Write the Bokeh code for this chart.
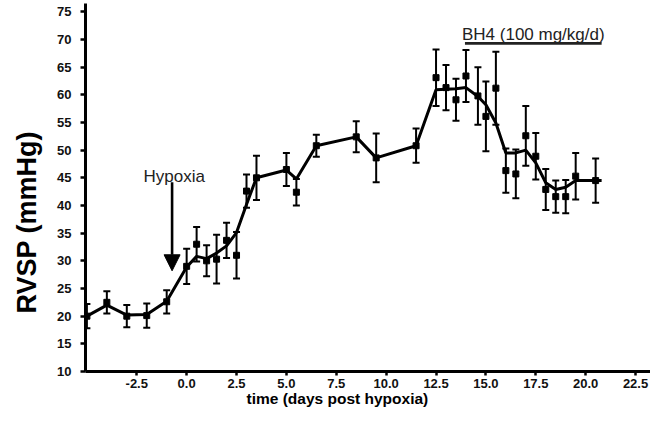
from bokeh.plotting import figure
from bokeh.models import (ColumnDataSource, Whisker, TeeHead, FixedTicker,
                          PrintfTickFormatter, Label, Arrow, NormalHead, Range1d, Title)
from bokeh.embed import file_html
from bokeh.resources import INLINE

# ---- data ----
days = [-5, -4, -3, -2, -1, 0, 0.5, 1, 1.5, 2, 2.5, 3, 3.5, 5, 5.5, 6.5, 8.5, 9.5,
        11.5, 12.5, 13, 13.5, 14, 14.6, 15, 15.5, 16, 16.5, 17, 17.5, 18, 18.5, 19,
        19.5, 20.5]
rvsp = [20.0, 22.5, 20.0, 20.1, 22.6, 29.0, 33.0, 30.0, 30.3, 33.7, 31.0, 42.6, 45.0,
        46.5, 42.4, 50.8, 52.4, 48.6, 50.8, 63.1, 61.3, 59.1, 63.4, 59.8, 56.1, 61.2,
        46.3, 45.7, 52.6, 48.9, 42.9, 41.6, 41.6, 45.3, 44.5]
sem = [2.2, 2.0, 2.0, 2.2, 2.1, 3.2, 3.1, 2.8, 4.4, 3.2, 4.2, 3.0, 4.0,
       3.0, 2.4, 2.0, 2.8, 4.4, 3.1, 5.1, 4.1, 3.8, 4.7, 5.2, 6.3, 6.6,
       4.0, 4.4, 5.4, 4.2, 3.7, 2.9, 3.0, 4.2, 4.0]

trend_days = [-5, -4, -3, -2, -1, 0, 0.5, 1, 1.5, 2, 2.5, 3, 3.5, 5, 5.5, 6.5, 8.5,
              9.5, 11.5, 12.5, 13, 13.5, 14, 14.6, 15, 15.5, 16, 16.5, 17, 17.5, 18,
              18.5, 19, 19.5, 20.5, 20.8]
trend_rvsp = [20.0, 22.0, 20.2, 20.3, 22.7, 28.9, 30.8, 30.4, 31.4, 32.7, 35.1, 40.2,
              45.0, 46.4, 44.8, 50.8, 52.4, 48.6, 50.8, 60.9, 61.0, 61.1, 61.3, 59.7,
              58.2, 54.9, 49.5, 49.5, 50.0, 47.7, 44.1, 42.9, 43.3, 44.5, 44.5, 44.5]

x_ticks = [-2.5, 0.0, 2.5, 5.0, 7.5, 10.0, 12.5, 15.0, 17.5, 20.0, 22.5]
y_ticks = [10, 15, 20, 25, 30, 35, 40, 45, 50, 55, 60, 65, 70, 75]

bh4_start, bh4_end, bh4_level = 13.95, 20.8, 69.3
hypoxia_day = -0.73
arrow_top, arrow_tip = 44.2, 28.2

FONT = "Liberation Sans"

src = ColumnDataSource(dict(
    x=days, y=rvsp,
    upper=[m + e for m, e in zip(rvsp, sem)],
    lower=[m - e for m, e in zip(rvsp, sem)],
))

p = figure(width=650, height=408, output_backend="svg", toolbar_location=None,
           x_range=Range1d(-5.07, 23.25), y_range=Range1d(10, 76.5),
           min_border_left=85, min_border_right=0, min_border_top=3,
           min_border_bottom=37)
p.outline_line_color = None
p.grid.visible = False
p.background_fill_color = "white"
p.border_fill_color = "white"

w = Whisker(source=src, base="x", upper="upper", lower="lower", dimension="height",
            line_color="black", line_width=2,
            upper_head=TeeHead(size=7, line_width=2, line_color="black"),
            lower_head=TeeHead(size=7, line_width=2, line_color="black"))
p.add_layout(w)

p.line(trend_days, trend_rvsp, line_color="black", line_width=3)
p.scatter("x", "y", source=src, marker="square", size=6, fill_color="black",
          line_color="black")

# BH4 bar
p.line([bh4_start, bh4_end], [bh4_level, bh4_level], line_color="#222222",
       line_width=2.6)
p.add_layout(Label(x=13.8, y=70.9, text="BH4 (100 mg/kg/d)", text_font=FONT,
                   text_font_size="17px", text_color="#222222",
                   text_baseline="alphabetic"))

# Hypoxia arrow
p.add_layout(Label(x=-0.62, y=45.3, text="Hypoxia", text_font=FONT,
                   text_font_size="17px", text_color="#222222",
                   text_align="center", text_baseline="alphabetic"))
p.add_layout(Arrow(end=NormalHead(size=16, fill_color="black", line_color="black"),
                   x_start=hypoxia_day, y_start=arrow_top,
                   x_end=hypoxia_day, y_end=arrow_tip,
                   line_color="black", line_width=2.6))

# axes
for ax in (p.xaxis[0], p.yaxis[0]):
    ax.axis_line_width = 3
    ax.axis_line_color = "black"
    ax.major_tick_line_width = 2.5
    ax.major_tick_line_color = "black"
    ax.major_tick_in = 0
    ax.minor_tick_line_color = None
    ax.major_label_text_font = FONT
    ax.major_label_text_font_style = "bold"
    ax.major_label_text_font_size = "13px"
    ax.major_label_text_color = "#111111"

p.xaxis.ticker = FixedTicker(ticks=x_ticks)
p.xaxis.formatter = PrintfTickFormatter(format="%.1f")
p.xaxis.major_tick_out = 4
p.xaxis.major_label_standoff = 3

p.yaxis.ticker = FixedTicker(ticks=y_ticks)
p.yaxis.major_tick_out = 5
p.yaxis.major_label_standoff = 9

# axis titles as side titles (allows off-centre placement like the reference)
has_standoff = "standoff" in Title.properties()
xt_kw = dict(text="time (days post hypoxia)", align="left", offset=161,
             text_font=FONT, text_font_style="bold", text_font_size="15.5px",
             text_color="black")
yt_kw = dict(text="RVSP (mmHg)", align="left", offset=58, vertical_align="top",
             text_font=FONT, text_font_style="bold", text_font_size="27px",
             text_color="black")
if has_standoff:
    xt_kw["standoff"] = -5
    yt_kw["standoff"] = 22
p.add_layout(Title(**xt_kw), "below")
p.add_layout(Title(**yt_kw), "left")

open("out.html", "w").write(file_html(p, INLINE))
